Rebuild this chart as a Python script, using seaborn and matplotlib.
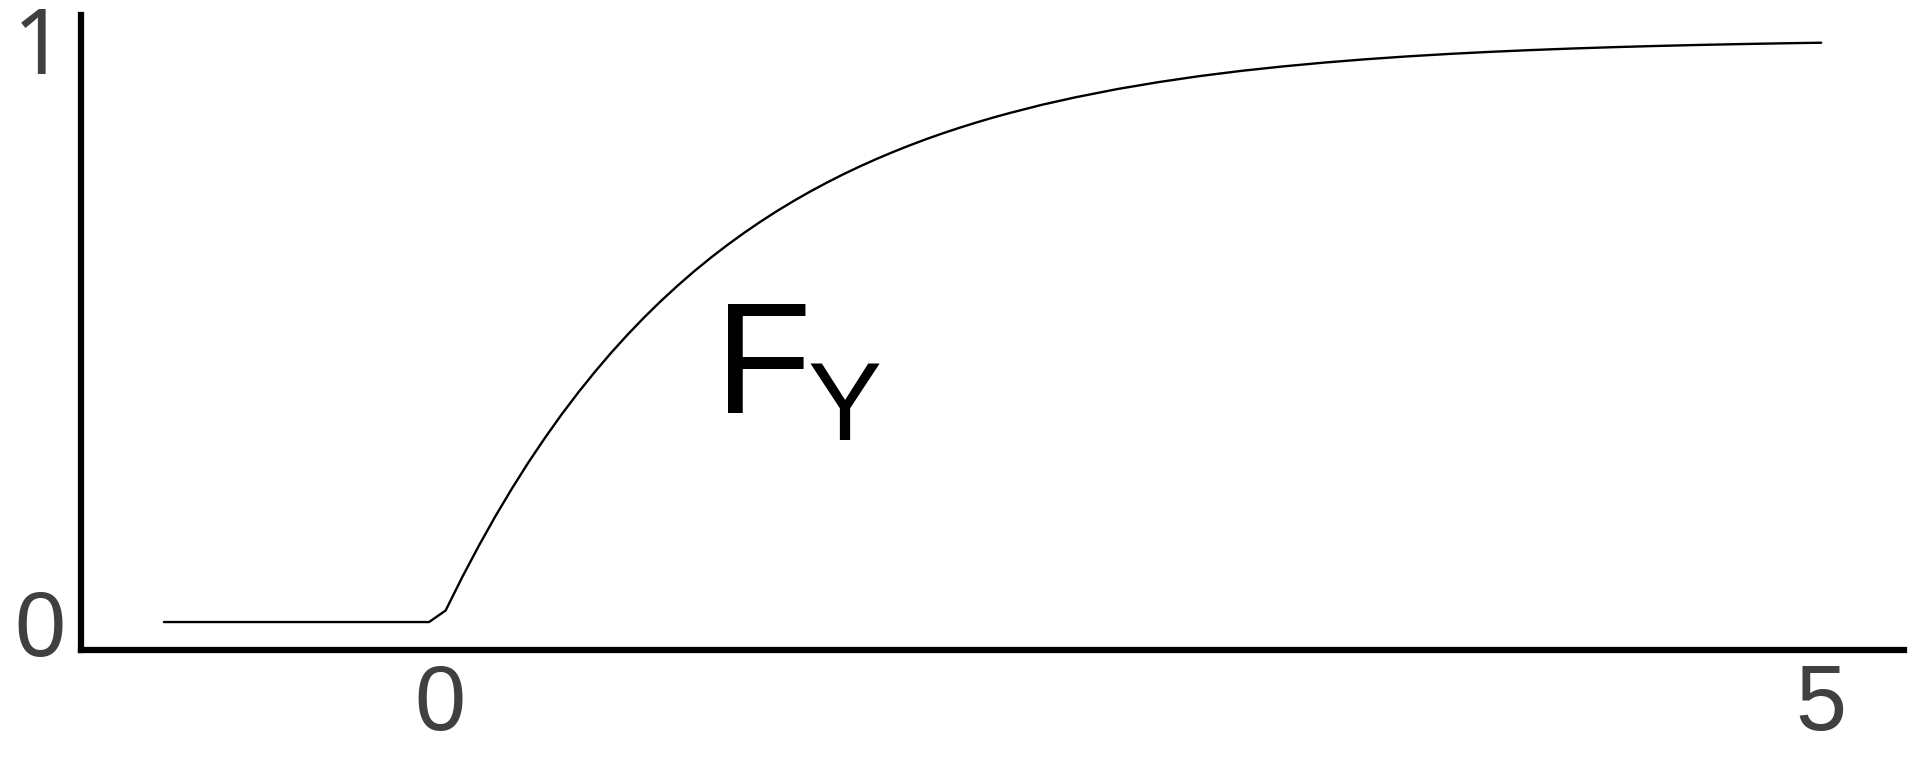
import numpy as np
import matplotlib
matplotlib.use("Agg")
import matplotlib.pyplot as plt
import seaborn as sns

# CDF values
x_vals = [-1.0, -0.04, 0.02, 0.08, 0.14, 0.20, 0.26, 0.32, 0.38, 0.44, 0.50, 0.56,
          0.62, 0.68, 0.74, 0.80, 0.86, 0.92, 0.98, 1.04, 1.10, 1.16, 1.22, 1.28,
          1.34, 1.40, 1.46, 1.52, 1.58, 1.64, 1.70, 1.76, 1.82, 1.88, 1.94, 2.00,
          2.06, 2.18, 2.30, 2.45, 2.60, 2.75, 2.90, 3.05, 3.20, 3.35, 3.50, 3.65,
          3.80, 3.95, 4.10, 4.25, 4.40, 4.55, 4.70, 4.85, 5.00]
y_vals = [0.0, 0.0, 0.0198, 0.0769, 0.1306, 0.1813, 0.2289, 0.2739, 0.3161, 0.3560, 0.3935, 0.4288,
          0.4621, 0.4934, 0.5229, 0.5507, 0.5768, 0.6015, 0.6247, 0.6465, 0.6671, 0.6865, 0.7048, 0.7220,
          0.7382, 0.7534, 0.7678, 0.7813, 0.7940, 0.8060, 0.8173, 0.8280, 0.8380, 0.8474, 0.8563, 0.8647,
          0.8725, 0.8870, 0.8997, 0.9137, 0.9257, 0.9361, 0.9450, 0.9526, 0.9592, 0.9649, 0.9698, 0.9740,
          0.9776, 0.9807, 0.9834, 0.9857, 0.9877, 0.9894, 0.9909, 0.9922, 0.9933]
x_ticks = [0, 5]
y_ticks = [0, 1]

sns.set_style("white")
plt.rcParams['font.family'] = ['Liberation Sans', 'DejaVu Sans']

fig = plt.figure(figsize=(19.2, 7.68), dpi=100)
ax = fig.add_axes([0.0422, 0.1536, 0.9495, 0.827])

sns.lineplot(x=x_vals, y=y_vals, ax=ax, color='black', linewidth=1.7, sort=False)

ax.set_xlim(-1.30, 5.30)
ax.set_ylim(-0.048, 1.041)
ax.set_xticks(x_ticks)
ax.set_yticks(y_ticks)
ax.tick_params(axis='both', length=0, labelsize=66, labelcolor='#404040')
ax.tick_params(axis='y', pad=11)
ax.tick_params(axis='x', pad=9)
# the "1" in Liberation Sans has a foot; the reference one does not
ax.get_yticklabels()[1].set_family(['Noto Sans', 'DejaVu Sans'])

for side in ['top', 'right']:
    ax.spines[side].set_visible(False)
for side in ['left', 'bottom']:
    ax.spines[side].set_linewidth(4.5)
    ax.spines[side].set_color('black')

# F_Y label
ax.text(0.995, 0.358, 'F', fontsize=114, color='black', ha='left', va='baseline')
ax.text(1.33, 0.312, 'Y', fontsize=80, color='black', ha='left', va='baseline')

fig.savefig('out.png', dpi=100)
